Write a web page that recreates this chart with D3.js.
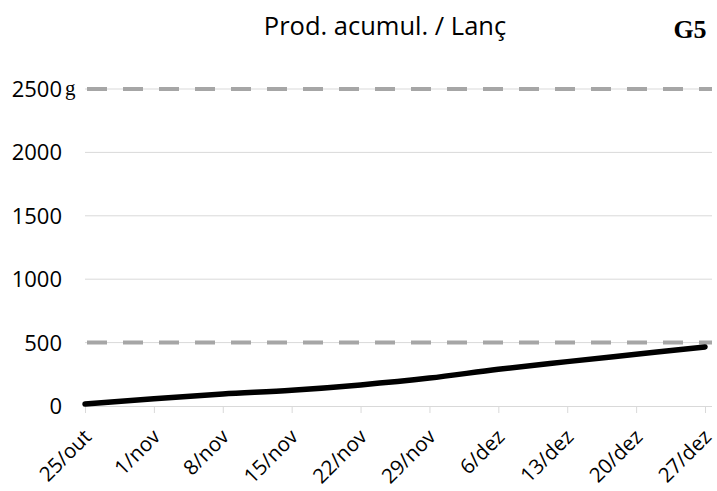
<!DOCTYPE html>
<html><head><meta charset="utf-8">
<script src="https://cdn.jsdelivr.net/npm/d3@7"></script>
<style>body{margin:0;background:#fff;} svg{display:block;}</style>
</head><body>
<svg id="c" width="717" height="491"></svg>
<script>
const categories = ["25/out","1/nov","8/nov","15/nov","22/nov","29/nov","6/dez","13/dez","20/dez","27/dez"];
const values = [15, 58, 95, 124, 166, 220, 290, 350, 408, 466];
const yTicks = [0, 500, 1000, 1500, 2000, 2500];
const refLines = [500, 2500];
const title = "Prod. acumul. / Lanç";
const tag = "G5";
const unit = "g";

const svg = d3.select("#c");
const x = d3.scalePoint().domain(categories).range([85, 705]);
const y = d3.scaleLinear().domain([0, 2500]).range([406, 89]);
const font = "'Open Sans', 'Noto Sans', sans-serif";

// gridlines
svg.append("g").selectAll("line").data(yTicks.filter(d => d > 0)).join("line")
  .attr("x1", 85).attr("x2", 712).attr("y1", d => y(d)).attr("y2", d => y(d))
  .attr("stroke", "#d9d9d9").attr("stroke-width", 1);

// dashed reference lines
svg.append("g").selectAll("line").data(refLines).join("line")
  .attr("x1", 87).attr("x2", 712).attr("y1", d => y(d)).attr("y2", d => y(d))
  .attr("stroke", "#a6a6a6").attr("stroke-width", 4)
  .attr("stroke-dasharray", "20,16");

// x axis
const xa = svg.append("g").attr("transform", "translate(0,406)")
  .call(d3.axisBottom(x).tickSize(7).tickSizeOuter(0));
xa.select(".domain").attr("stroke", "#d9d9d9").attr("d", "M85,0.5H712");
xa.selectAll(".tick line").attr("stroke", "#d9d9d9");
xa.selectAll("text").attr("font-family", font).attr("font-size", 20.5).attr("fill", "#000")
  .attr("text-anchor", "end").attr("x", 0).attr("y", 0).attr("dy", "0.35em")
  .attr("transform", "translate(2,27) rotate(-45)");

// y axis labels
svg.append("g").selectAll("text").data(yTicks).join("text")
  .attr("x", 62).attr("y", d => y(d)).attr("dy", "0.36em")
  .attr("text-anchor", "end").attr("font-family", font).attr("font-size", 22)
  .attr("fill", "#000").text(d => d);

svg.append("text").attr("x", 65).attr("y", y(2500)).attr("dy", "0.3em")
  .attr("font-family", "'Liberation Serif', serif").attr("font-size", 21)
  .attr("fill", "#000").text(unit);

// line
const line = d3.line().x((d, i) => x(categories[i])).y(d => y(d)).curve(d3.curveMonotoneX);
svg.append("path").datum(values).attr("d", line)
  .attr("fill", "none").attr("stroke", "#000").attr("stroke-width", 5.5)
  .attr("stroke-linecap", "round");

svg.append("text").attr("x", 385).attr("y", 35).attr("text-anchor", "middle")
  .attr("font-family", font).attr("font-size", 25.5).attr("fill", "#000").text(title);

svg.append("text").attr("x", 690).attr("y", 38).attr("text-anchor", "middle")
  .attr("font-family", "'Liberation Serif', serif").attr("font-weight", "bold")
  .attr("font-size", 26).attr("fill", "#000").text(tag);
</script>
</body></html>
